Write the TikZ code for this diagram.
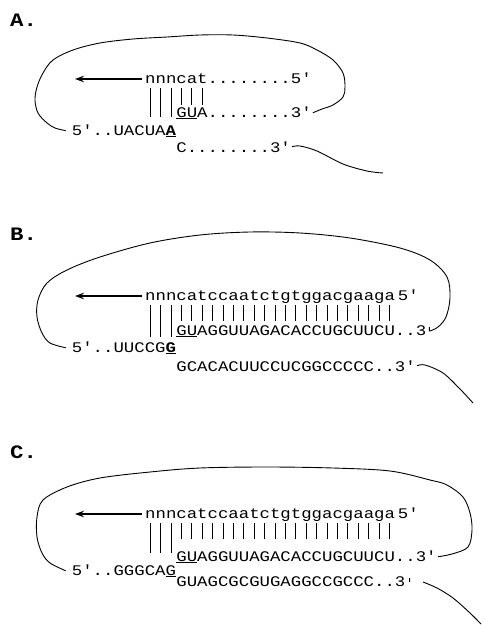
\documentclass[tikz,border=0pt]{standalone}
\usepackage{fontspec}
\newfontfamily\seqfont[FakeStretch=1.18,Ligatures=TeXOff]{Liberation Mono}
\usetikzlibrary{arrows.meta}

\tikzset{
    seq/.style={anchor=base west,inner sep=0pt,font=\fontsize{14.7}{17}\seqfont},
    lbl/.style={anchor=base west,inner sep=0pt,font=\fontsize{19}{21}\seqfont\bfseries},
    pair/.style={line width=0.8pt},
    strand/.style={line width=0.9pt,line join=round},
    arr/.style={-{Stealth[length=9pt,width=6.5pt]},line width=1.4pt}
}

\begin{document}
\begin{tikzpicture}[x=1pt,y=-1pt]
    \useasboundingbox (0,0) rectangle (483,626);

    \node[lbl] (LA) at (10,27) {A.};
    \node[seq] (A1) at (145,83) {nnncat........5'};
    \node[seq] (A2) at (176.2,117) {\underline{GU}A........3'};
    \node[seq,anchor=base east] (A3) at (176.2,135) {5'..UACUA\underline{\textbf{A}}};
    \node[seq] (A4) at (176.2,152) {C........3'};
    \foreach \k in {0,1,2} \draw[pair] (150.2+10.4*\k,88) -- (150.2+10.4*\k,117);
    \foreach \k in {3,4,5} \draw[pair] (150.2+10.4*\k,88) -- (150.2+10.4*\k,105);
    \draw[arr] ([shift={(-3,-4)}]A1.base west) -- ([shift={(-70,-4)}]A1.base west);
    \draw[strand] plot[smooth,tension=0.55] coordinates {([xshift=-6pt]A3.west)
        (55,128) (47,123) (38,113) (35,100) (37,87) (43,73) (53,60) (73,50)
        (100,43) (133,39) (167,37) (200,35) (233,35) (267,38) (300,43)
        (317,50) (333,60) (343,73) (345,87) (343,97) (333,105) (322,109)
        ([xshift=1pt]A2.east)};
    \draw[strand] plot[smooth,tension=0.55] coordinates {([xshift=1pt]A4.east)
        (300,146) (317,151) (343,164) (367,171) (383,173)};

    \node[lbl] (LB) at (10,240) {B.};
    \node[seq] (B1) at (145,300) {nnncatccaatctgtggacgaaga\hspace{3pt}5'};
    \node[seq] (B2) at (176.2,335) {\underline{GU}AGGUUAGACACCUGCUUCU..3};
    \node[seq,anchor=base east] (B3) at (176.2,352) {5'..UUCCG\underline{\textbf{G}}};
    \node[seq] (B4) at (176.2,371) {GCACACUUCCUCGGCCCCC..3'};
    \foreach \k in {0,1,2} \draw[pair] (150.2+10.4*\k,305) -- (150.2+10.4*\k,337);
    \foreach \k in {3,...,23} \draw[pair] (150.2+10.4*\k,305) -- (150.2+10.4*\k,321);
    \draw[arr] ([shift={(-3,-4)}]B1.base west) -- ([shift={(-70,-4)}]B1.base west);
    \draw[strand] plot[smooth,tension=0.55] coordinates {([xshift=-6pt]B3.west)
        (50,343) (42,333) (37,317) (38,300) (47,283) (67,270) (100,257)
        (150,243) (200,235) (250,232) (300,233) (350,238) (400,248)
        (430,260) (447,277) (450,298) (446,317) (438,327) (430,331)}
        -- ([shift={(3,-4)}]B2.base east) -- ([shift={(3,-8)}]B2.base east);
    \draw[strand] plot[smooth,tension=0.55] coordinates {([xshift=1pt]B4.east)
        (425,365) (443,373) (460,389) (473,403)};

    \node[lbl] (LC) at (10,458) {C.};
    \node[seq] (C1) at (145,518) {nnncatccaatctgtggacgaaga\hspace{3pt}5'};
    \node[seq] (C2) at (176.2,561) {\underline{GU}AGGUUAGACACCUGCUUCU..3'};
    \node[seq,anchor=base east] (C3) at (176.2,575) {5'..GGGCA\underline{G}};
    \node[seq] (C4) at (176.2,586) {GUAGCGCGUGAGGCCGCCC..3};
    \foreach \k in {0,1,2} \draw[pair] (150.2+10.4*\k,523) -- (150.2+10.4*\k,553);
    \foreach \k in {3,...,23} \draw[pair] (150.2+10.4*\k,523) -- (150.2+10.4*\k,539);
    \draw[arr] ([shift={(-3,-4)}]C1.base west) -- ([shift={(-70,-4)}]C1.base west);
    \draw[strand] plot[smooth,tension=0.55] coordinates {([xshift=-6pt]C3.west)
        (50,563) (42,553) (37,537) (37,517) (43,500) (67,487) (100,478)
        (150,472) (200,468) (267,467) (333,468) (390,471) (430,480)
        (447,485) (463,497) (470,513) (472,530) (468,547) (452,554)
        ([xshift=1pt]C2.east)};
    \draw[strand] ([shift={(4,-8)}]C4.base east) -- ([shift={(4,-4)}]C4.base east)
        plot[smooth,tension=0.55] coordinates {(423,582) (437,588) (453,598)
        (470,613) (481,624)};
\end{tikzpicture}
\end{document}
